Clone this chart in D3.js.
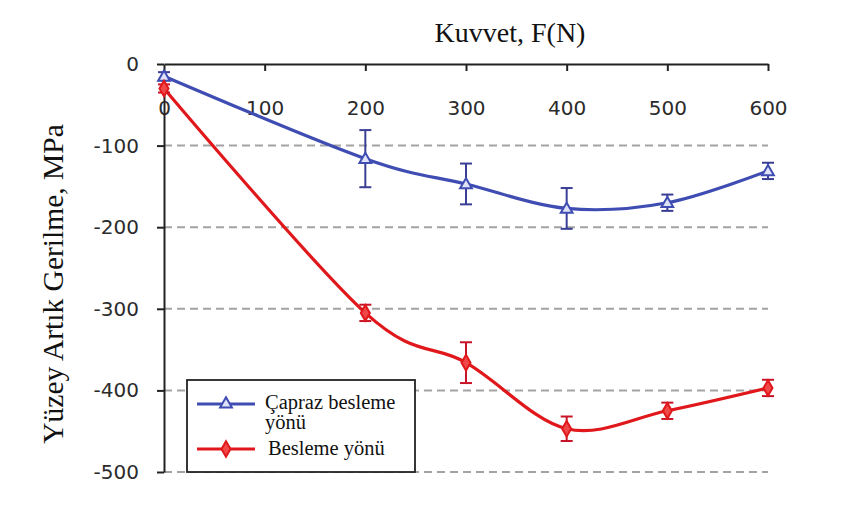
<!DOCTYPE html>
<html>
<head>
<meta charset="utf-8">
<script src="https://cdn.jsdelivr.net/npm/d3@7"></script>
<style>
  html, body { margin: 0; padding: 0; background: #fff; }
  svg { display: block; }
</style>
</head>
<body>
<svg id="chart" width="859" height="506"></svg>
<script>
// Force levels (N) and surface residual stress (MPa) with error half-widths
const forces = [0, 200, 300, 400, 500, 600];
const caprazStress = [-15, -116, -147, -177, -170, -131];
const caprazErr = [5, 35, 25, 25, 10, 10];
const beslemeStress = [-30, -305, -366, -447, -425, -397];
const beslemeErr = [5, 10, 25, 15, 10, 10];

const xTicks = [0, 100, 200, 300, 400, 500, 600];
const yTicks = [0, -100, -200, -300, -400, -500];
const seriesNames = ["Çapraz besleme", "yönü", "Besleme yönü"];
const xTitle = "Kuvvet, F(N)";
const yTitle = "Yüzey Artık Gerilme, MPa";

const svg = d3.select("#chart");
const BLUE = "#3f4db3", BLUE_ERR = "#3a3f95";
const RED = "#e0181c", RED_ERR = "#c81428";

const x = d3.scaleLinear().domain([0, 600]).range([164, 768]);
const y = d3.scaleLinear().domain([-500, 0]).range([472, 64]);

const tickFont = "'DejaVu Sans', sans-serif";
const serif = "'Liberation Serif', 'Times New Roman', serif";

// dashed horizontal gridlines
svg.append("g").selectAll("line")
  .data(yTicks.filter(d => d !== 0))
  .join("line")
  .attr("x1", x(0)).attr("x2", x(600))
  .attr("y1", d => y(d)).attr("y2", d => y(d))
  .attr("stroke", "#a3a3a3").attr("stroke-width", 2)
  .attr("stroke-dasharray", "8,5");

// top x axis (ticks hang below the line)
const xAxis = svg.append("g").attr("transform", `translate(0,${y(0)})`)
  .call(d3.axisBottom(x).tickValues(xTicks).tickSize(7).tickSizeOuter(0).tickFormat(d3.format("d")));
xAxis.select(".domain").attr("stroke", "#222").attr("stroke-width", 2);
xAxis.selectAll(".tick line").attr("stroke", "#222").attr("stroke-width", 2)
  .attr("display", d => d === 0 ? "none" : null);
xAxis.selectAll(".tick text")
  .attr("y", 44).attr("dy", "0.35em")
  .attr("font-family", tickFont).attr("font-size", 20).attr("fill", "#2b2b2b");

// left y axis
const yAxis = svg.append("g").attr("transform", `translate(${x(0)},0)`)
  .call(d3.axisLeft(y).tickValues(yTicks).tickSize(7).tickSizeOuter(0).tickFormat(d => d3.format("d")(d).replace("−", "-")));
yAxis.select(".domain").attr("stroke", "#222").attr("stroke-width", 2);
yAxis.selectAll(".tick line").attr("stroke", "#222").attr("stroke-width", 2);
yAxis.selectAll(".tick text")
  .attr("x", -25)
  .attr("font-family", tickFont).attr("font-size", 20).attr("fill", "#2b2b2b");

// axis titles
svg.append("text")
  .attr("x", 510).attr("y", 42).attr("text-anchor", "middle")
  .attr("font-family", serif).attr("font-size", 28).attr("fill", "#111")
  .text(xTitle);
svg.append("text")
  .attr("transform", "translate(63,284) rotate(-90)")
  .attr("text-anchor", "middle")
  .attr("font-family", serif).attr("font-size", 29.5).attr("fill", "#111")
  .text(yTitle);

const line = d3.line().x(d => x(d[0])).y(d => y(d[1])).curve(d3.curveCardinal.tension(0));

function drawSeries(values, errs, color, errColor, marker) {
  const pts = forces.map((f, i) => [f, values[i], errs[i]]);
  svg.append("path").datum(pts)
    .attr("d", line).attr("fill", "none")
    .attr("stroke", color).attr("stroke-width", 3.2);
  const g = svg.append("g").attr("stroke", errColor).attr("stroke-width", 2);
  pts.forEach(p => {
    const cx = x(p[0]);
    g.append("line").attr("x1", cx).attr("x2", cx).attr("y1", y(p[1] + p[2])).attr("y2", y(p[1] - p[2]));
    g.append("line").attr("x1", cx - 6).attr("x2", cx + 6).attr("y1", y(p[1] + p[2])).attr("y2", y(p[1] + p[2]));
    g.append("line").attr("x1", cx - 6).attr("x2", cx + 6).attr("y1", y(p[1] - p[2])).attr("y2", y(p[1] - p[2]));
  });
  pts.forEach(p => marker(svg, x(p[0]), y(p[1])));
}

function triangle(sel, cx, cy) {
  sel.append("path")
    .attr("d", d3.symbol().type(d3.symbolTriangle).size(60)())
    .attr("transform", `translate(${cx},${cy + 1})`)
    .attr("fill", "#dfe3f7").attr("stroke", BLUE).attr("stroke-width", 2);
}
function diamond(sel, cx, cy) {
  sel.append("path")
    .attr("d", d3.symbol().type(d3.symbolDiamond).size(70)())
    .attr("transform", `translate(${cx},${cy})`)
    .attr("fill", "#f04848").attr("stroke", RED).attr("stroke-width", 2);
}

drawSeries(caprazStress, caprazErr, BLUE, BLUE_ERR, triangle);
drawSeries(beslemeStress, beslemeErr, RED, RED_ERR, diamond);

// legend
const lg = svg.append("g");
lg.append("rect").attr("x", 187).attr("y", 380).attr("width", 228).attr("height", 92)
  .attr("fill", "#fff").attr("stroke", "#222").attr("stroke-width", 1.8);
lg.append("line").attr("x1", 197).attr("x2", 255).attr("y1", 404).attr("y2", 404)
  .attr("stroke", BLUE).attr("stroke-width", 3.2);
triangle(lg, 226, 403);
lg.append("line").attr("x1", 197).attr("x2", 255).attr("y1", 449).attr("y2", 449)
  .attr("stroke", RED).attr("stroke-width", 3.2);
diamond(lg, 226, 449);
lg.selectAll("text.lbl")
  .data([[265, 409, seriesNames[0]], [265, 429, seriesNames[1]], [268, 455, seriesNames[2]]])
  .join("text").attr("class", "lbl")
  .attr("x", d => d[0]).attr("y", d => d[1])
  .attr("font-family", serif).attr("font-size", 20.5).attr("fill", "#111")
  .text(d => d[2]);
</script>
</body>
</html>
